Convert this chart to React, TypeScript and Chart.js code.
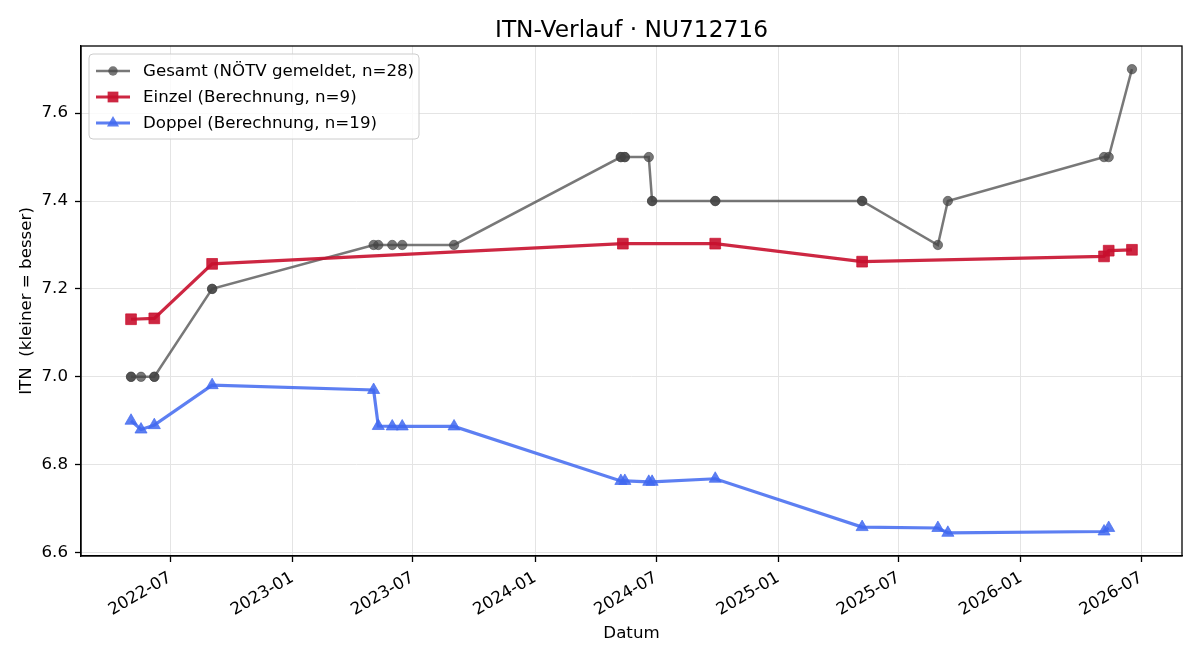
import React, { useEffect, useRef } from "react";
import { Chart, registerables } from "chart.js";

Chart.register(...registerables);

// ---------- data ----------
const chartTitle = "ITN-Verlauf · NU712716";
const xAxisTitle = "Datum";
const yAxisTitle = "ITN  (kleiner = besser)";

const seriesLabels = [
  "Gesamt (NÖTV gemeldet, n=28)",
  "Einzel (Berechnung, n=9)",
  "Doppel (Berechnung, n=19)",
];

const gesamtDates = [
  "2022-05-03", "2022-05-03", "2022-05-18", "2022-06-07", "2022-06-07",
  "2022-09-02", "2022-09-02", "2023-05-03", "2023-05-10", "2023-05-31",
  "2023-06-15", "2023-09-01", "2024-05-09", "2024-05-09", "2024-05-15",
  "2024-05-15", "2024-06-20", "2024-06-25", "2024-06-25", "2024-09-28",
  "2024-09-28", "2025-05-07", "2025-05-07", "2025-08-29", "2025-09-13",
  "2026-05-06", "2026-05-13", "2026-06-17",
];
const gesamtValues = [
  7.0, 7.0, 7.0, 7.0, 7.0,
  7.2, 7.2, 7.3, 7.3, 7.3,
  7.3, 7.3, 7.5, 7.5, 7.5,
  7.5, 7.5, 7.4, 7.4, 7.4,
  7.4, 7.4, 7.4, 7.3, 7.4,
  7.5, 7.5, 7.7,
];

const einzelDates = [
  "2022-05-03", "2022-06-07", "2022-09-02", "2024-05-12", "2024-09-28",
  "2025-05-07", "2026-05-06", "2026-05-13", "2026-06-17",
];
const einzelValues = [7.131, 7.133, 7.257, 7.303, 7.303, 7.262, 7.274, 7.287, 7.289];

const doppelDates = [
  "2022-05-03", "2022-05-18", "2022-06-07", "2022-09-02", "2023-05-03",
  "2023-05-10", "2023-05-31", "2023-06-15", "2023-09-01", "2024-05-09",
  "2024-05-15", "2024-06-20", "2024-06-25", "2024-09-28", "2025-05-07",
  "2025-08-29", "2025-09-13", "2026-05-06", "2026-05-13",
];
const doppelValues = [
  6.900, 6.880, 6.890, 6.981, 6.970,
  6.888, 6.887, 6.887, 6.887, 6.763,
  6.763, 6.761, 6.761, 6.768, 6.658,
  6.656, 6.645, 6.648, 6.656,
];

const xTickLabels = [
  "2022-07", "2023-01", "2023-07", "2024-01", "2024-07",
  "2025-01", "2025-07", "2026-01", "2026-07",
];
const yTickValues = [6.6, 6.8, 7.0, 7.2, 7.4, 7.6];

// ---------- helpers ----------
const toMs = (s: string) => {
  const [y, m, d] = s.split("-").map(Number);
  return Date.UTC(y, m - 1, d || 1);
};
const pts = (dates: string[], vals: number[]) =>
  dates.map((d, i) => ({ x: toMs(d), y: vals[i] }));

const FONT = "'DejaVu Sans', 'Liberation Sans', sans-serif";
const GRAY = "rgba(68,68,68,0.72)";
const RED = "rgba(200,16,46,0.9)";
const BLUE = "rgba(65,105,240,0.85)";

const withMargin = (vals: number[], f = 0.05) => {
  const lo = Math.min(...vals);
  const hi = Math.max(...vals);
  const r = hi - lo;
  return [lo - r * f, hi + r * f];
};

const overlayPlugin = {
  id: "overlay",
  afterDraw(chart: any) {
    const { ctx, chartArea: a } = chart;
    ctx.save();
    // title centred over the axes
    ctx.fillStyle = "#000";
    ctx.font = `23.3px ${FONT}`;
    ctx.textAlign = "center";
    ctx.textBaseline = "alphabetic";
    ctx.fillText(chartTitle, (a.left + a.right) / 2, 36.5);

    // frame (all four spines)
    ctx.strokeStyle = "#000";
    ctx.lineWidth = 1.3;
    ctx.strokeRect(a.left, a.top, a.right - a.left, a.bottom - a.top);

    // legend inside the axes, upper left
    const x0 = a.left + 8;
    const y0 = a.top + 8;
    const w = 330;
    const h = 85;
    const r = 4;
    ctx.beginPath();
    ctx.moveTo(x0 + r, y0);
    ctx.lineTo(x0 + w - r, y0);
    ctx.arcTo(x0 + w, y0, x0 + w, y0 + r, r);
    ctx.lineTo(x0 + w, y0 + h - r);
    ctx.arcTo(x0 + w, y0 + h, x0 + w - r, y0 + h, r);
    ctx.lineTo(x0 + r, y0 + h);
    ctx.arcTo(x0, y0 + h, x0, y0 + h - r, r);
    ctx.lineTo(x0, y0 + r);
    ctx.arcTo(x0, y0, x0 + r, y0, r);
    ctx.closePath();
    ctx.fillStyle = "rgba(255,255,255,0.8)";
    ctx.fill();
    ctx.strokeStyle = "#cccccc";
    ctx.lineWidth = 1;
    ctx.stroke();

    chart.data.datasets.forEach((ds: any, i: number) => {
      const cy = y0 + 17 + i * 26;
      ctx.strokeStyle = ds.borderColor;
      ctx.lineWidth = ds.borderWidth;
      ctx.beginPath();
      ctx.moveTo(x0 + 7, cy);
      ctx.lineTo(x0 + 41, cy);
      ctx.stroke();
      const mx = x0 + 24;
      ctx.fillStyle = ds.pointBackgroundColor;
      ctx.beginPath();
      if (ds.pointStyle === "circle") {
        ctx.arc(mx, cy, ds.pointRadius, 0, Math.PI * 2);
      } else if (ds.pointStyle === "rect") {
        const s = ds.pointRadius * Math.SQRT1_2;
        ctx.rect(mx - s, cy - s, 2 * s, 2 * s);
      } else {
        const rr = ds.pointRadius;
        ctx.moveTo(mx, cy - rr);
        ctx.lineTo(mx + rr * Math.sin((2 * Math.PI) / 3), cy - rr * Math.cos((2 * Math.PI) / 3));
        ctx.lineTo(mx + rr * Math.sin((4 * Math.PI) / 3), cy - rr * Math.cos((4 * Math.PI) / 3));
        ctx.closePath();
      }
      ctx.fill();
      ctx.fillStyle = "#000";
      ctx.font = `16.67px ${FONT}`;
      ctx.textBaseline = "middle";
      ctx.textAlign = "left";
      ctx.fillText(ds.label, x0 + 54, cy + 1);
    });
    ctx.restore();
  },
};

export default function App() {
  const ref = useRef<HTMLCanvasElement | null>(null);

  useEffect(() => {
    if (!ref.current) return;
    const allX = [...gesamtDates, ...einzelDates, ...doppelDates].map(toMs);
    const allY = [...gesamtValues, ...einzelValues, ...doppelValues];
    const [xMin, xMax] = withMargin(allX);
    const [yMin, yMax] = withMargin(allY);

    const chart = new Chart(ref.current, {
      type: "line",
      data: {
        datasets: [
          {
            label: seriesLabels[0],
            data: pts(gesamtDates, gesamtValues),
            borderColor: GRAY,
            backgroundColor: GRAY,
            pointBackgroundColor: GRAY,
            pointBorderColor: GRAY,
            borderWidth: 2.5,
            pointRadius: 4.7,
            pointBorderWidth: 0.8,
            pointStyle: "circle",
            order: 3,
          },
          {
            label: seriesLabels[1],
            data: pts(einzelDates, einzelValues),
            borderColor: RED,
            backgroundColor: RED,
            pointBackgroundColor: RED,
            pointBorderColor: RED,
            borderWidth: 3.2,
            pointRadius: 7.6,
            pointBorderWidth: 0.8,
            pointStyle: "rect",
            order: 2,
          },
          {
            label: seriesLabels[2],
            data: pts(doppelDates, doppelValues),
            borderColor: BLUE,
            backgroundColor: BLUE,
            pointBackgroundColor: BLUE,
            pointBorderColor: BLUE,
            borderWidth: 3.2,
            pointRadius: 7,
            pointBorderWidth: 0.8,
            pointStyle: "triangle",
            order: 1,
          },
        ] as any,
      },
      options: {
        animation: false,
        responsive: false,
        devicePixelRatio: 1,
        layout: { padding: { left: 0, right: 18, top: 46, bottom: 0 } },
        plugins: {
          legend: { display: false },
          tooltip: { enabled: false },
          title: { display: false },
        },
        scales: {
          x: {
            type: "linear",
            min: xMin,
            max: xMax,
            afterBuildTicks: (scale: any) => {
              scale.ticks = xTickLabels.map((l) => ({ value: toMs(l + "-01") }));
            },
            afterFit: (scale: any) => {
              scale.height = 104;
            },
            ticks: {
              autoSkip: false,
              minRotation: 30,
              maxRotation: 30,
              padding: 6,
              color: "#000",
              font: { family: FONT, size: 16.67 },
              callback: (_v: any, i: number) => xTickLabels[i],
            },
            grid: {
              color: "#e4e4e4",
              lineWidth: 1,
              tickLength: 6,
              tickColor: "#000",
              tickWidth: 1.3,
            },
            border: { color: "#000", width: 1.3 },
            title: {
              display: true,
              text: xAxisTitle,
              color: "#000",
              font: { family: FONT, size: 16.67 },
              padding: { top: 0, bottom: 16 },
            },
          },
          y: {
            type: "linear",
            min: yMin,
            max: yMax,
            afterBuildTicks: (scale: any) => {
              scale.ticks = yTickValues.map((v) => ({ value: v }));
            },
            afterFit: (scale: any) => {
              scale.width = 81;
            },
            ticks: {
              padding: 7,
              color: "#000",
              font: { family: FONT, size: 16.67 },
              callback: (v: any) => Number(v).toFixed(1),
            },
            grid: {
              color: "#e4e4e4",
              lineWidth: 1,
              tickLength: 6,
              tickColor: "#000",
              tickWidth: 1.3,
            },
            border: { color: "#000", width: 1.3 },
            title: {
              display: true,
              text: yAxisTitle,
              color: "#000",
              font: { family: FONT, size: 16.67 },
              padding: { top: 17, bottom: 0 },
            },
          },
        },
      },
      plugins: [overlayPlugin],
    });
    return () => chart.destroy();
  }, []);

  return (
    <div style={{ position: "absolute", left: 0, top: 0, width: 1200, height: 660, background: "#fff" }}>
      <canvas ref={ref} width={1200} height={660} />
    </div>
  );
}
